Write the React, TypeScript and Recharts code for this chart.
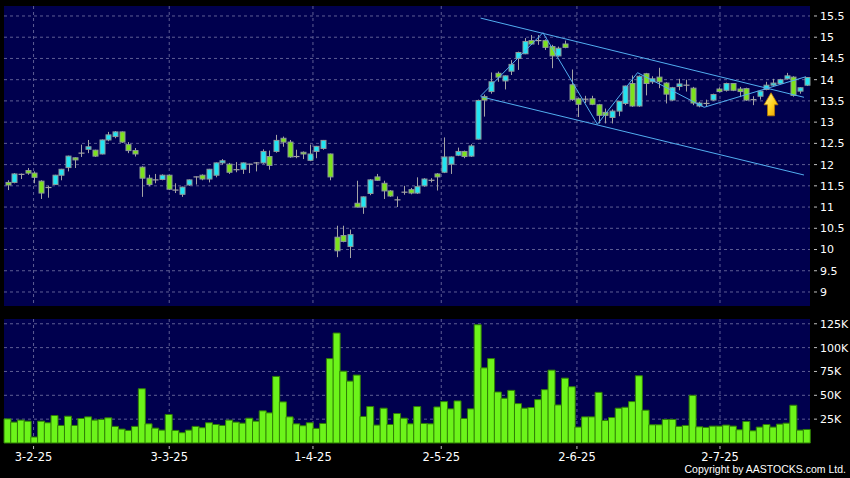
import React from "react";
import {
  Bar,
  CartesianGrid,
  ComposedChart,
  ReferenceDot,
  ReferenceLine,
  XAxis,
  YAxis,
} from "recharts";

// daily OHLC, oldest first
const opens = [
  11.58, 11.58, 11.77, 11.86, 11.8, 11.61, 11.46, 11.53, 11.75, 11.93,
  12.16, 12.27, 12.36, 12.34, 12.25, 12.58, 12.66, 12.77, 12.47, 12.33,
  11.94, 11.68, 11.64, 11.65, 11.75, 11.4, 11.3, 11.52, 11.71, 11.75,
  11.66, 11.75, 12.04, 12.01, 11.88, 11.89, 12.01, 12.04, 12.04, 12.19,
  12.31, 12.62, 12.53, 12.19, 12.29, 12.1, 12.31, 12.38, 12.25, 10.29,
  10.33, 10.07, 11.09, 11.0, 11.32, 11.71, 11.56, 11.38, 11.17, 11.35,
  11.41, 11.33, 11.5, 11.63, 11.78, 11.82, 12.01, 12.22, 12.31, 12.2,
  12.6, 13.6, 13.72, 14.15, 13.97, 14.2, 14.5, 14.61, 14.92, 14.92,
  14.92, 14.78, 14.56, 14.84, 13.88, 13.55, 13.54, 13.55, 13.41, 13.23,
  13.11, 13.26, 13.44, 13.91, 13.38, 14.14, 13.95, 14.06, 13.92, 13.52,
  13.84, 13.87, 13.8, 13.38, 13.44, 13.52, 13.78, 13.75, 13.91, 13.78,
  13.79, 13.53, 13.61, 13.77, 13.87, 13.91, 14.02, 14.06, 13.73, 13.87,
];
const highs = [
  11.63, 11.8, 11.79, 11.92, 11.84, 11.63, 11.5, 11.76, 11.9, 12.21,
  12.17, 12.47, 12.58, 12.35, 12.59, 12.77, 12.79, 12.78, 12.53, 12.39,
  11.96, 11.76, 11.78, 11.77, 11.76, 11.56, 11.48, 11.65, 11.72, 11.77,
  11.9, 12.05, 12.13, 12.04, 12.06, 12.05, 12.02, 12.06, 12.36, 12.33,
  12.7, 12.66, 12.58, 12.35, 12.31, 12.47, 12.44, 12.58, 12.26, 10.56,
  10.56, 10.47, 11.62, 11.25, 11.66, 11.78, 11.62, 11.4, 11.25, 11.5,
  11.45, 11.7, 11.68, 11.68, 11.8, 12.64, 12.19, 12.4, 12.33, 12.48,
  13.53, 13.65, 14.17, 14.19, 14.1, 14.46, 14.66, 14.98, 15.05, 15.05,
  14.95, 14.82, 14.78, 14.92, 14.24, 13.58, 13.62, 13.62, 13.43, 13.32,
  13.3, 13.5, 13.86, 14.1, 14.1, 14.16, 14.08, 14.28, 13.94, 13.83,
  14.02, 14.0, 13.83, 13.48, 13.53, 13.67, 13.82, 13.93, 13.92, 13.83,
  13.81, 13.61, 13.74, 13.95, 14.02, 14.02, 14.16, 14.08, 13.82, 14.06,
];
const lows = [
  11.4, 11.56, 11.66, 11.76, 11.56, 11.19, 11.22, 11.52, 11.63, 11.84,
  11.92, 12.18, 12.27, 12.18, 12.24, 12.55, 12.62, 12.51, 12.27, 12.19,
  11.24, 11.49, 11.56, 11.63, 11.4, 11.33, 11.24, 11.5, 11.53, 11.63,
  11.58, 11.7, 12.0, 11.78, 11.82, 11.78, 11.8, 11.84, 12.02, 11.88,
  12.28, 12.42, 12.16, 12.15, 12.13, 12.08, 12.15, 12.35, 11.63, 9.82,
  10.17, 9.8, 10.99, 10.84, 11.28, 11.62, 11.19, 11.24, 11.0, 11.29,
  11.3, 11.31, 11.48, 11.58, 11.39, 11.8, 11.78, 12.2, 12.15, 12.18,
  12.59, 13.13, 13.67, 13.95, 13.77, 14.11, 14.23, 14.6, 14.82, 14.82,
  14.7, 14.27, 14.54, 14.74, 13.5, 13.12, 13.45, 13.4, 12.97, 12.97,
  12.97, 13.14, 13.4, 13.36, 13.36, 13.63, 13.9, 13.8, 13.44, 13.5,
  13.75, 13.72, 13.4, 13.35, 13.36, 13.5, 13.7, 13.72, 13.73, 13.59,
  13.5, 13.4, 13.53, 13.75, 13.85, 13.89, 14.0, 13.6, 13.67, 13.85,
];
const closes = [
  11.52, 11.78, 11.77, 11.8, 11.7, 11.33, 11.46, 11.75, 11.89, 12.2,
  12.11, 12.27, 12.42, 12.2, 12.58, 12.7, 12.77, 12.53, 12.33, 12.25,
  11.68, 11.53, 11.64, 11.75, 11.42, 11.4, 11.47, 11.64, 11.71, 11.66,
  11.89, 12.04, 12.09, 11.82, 11.88, 12.04, 12.01, 12.04, 12.31, 11.98,
  12.57, 12.53, 12.18, 12.19, 12.25, 12.25, 12.43, 12.57, 11.71, 9.97,
  10.19, 10.35, 11.0, 11.24, 11.64, 11.63, 11.38, 11.26, 11.17, 11.35,
  11.33, 11.48, 11.66, 11.63, 11.71, 12.18, 12.18, 12.31, 12.19, 12.44,
  13.51, 13.52, 13.95, 14.06, 14.09, 14.36, 14.64, 14.9, 14.84, 14.92,
  14.76, 14.56, 14.74, 14.76, 13.53, 13.42, 13.54, 13.42, 13.16, 13.16,
  13.26, 13.49, 13.85, 13.38, 14.08, 13.91, 14.02, 13.95, 13.66, 13.81,
  13.9, 13.87, 13.45, 13.45, 13.44, 13.65, 13.72, 13.91, 13.75, 13.72,
  13.52, 13.53, 13.73, 13.87, 13.92, 14.0, 14.09, 13.63, 13.81, 14.05,
];
// volume in thousands of shares
const volumes = [
  25.3, 21.9, 24.0, 22.9, 6.3, 22.9, 21.2, 28.8, 18.4, 28.1,
  18.4, 25.7, 27.4, 24.0, 24.7, 26.4, 17.4, 14.6, 13.2, 17.4,
  56.9, 20.1, 15.6, 13.5, 29.9, 13.2, 10.8, 13.5, 17.4, 16.0,
  21.2, 19.4, 18.4, 24.0, 21.9, 20.8, 26.0, 22.9, 33.7, 31.6,
  69.8, 43.1, 27.4, 20.1, 18.1, 21.2, 15.3, 20.5, 88.5, 115.3,
  75.3, 64.9, 71.2, 27.8, 38.2, 18.8, 36.5, 19.4, 30.9, 26.0,
  20.1, 38.2, 20.5, 20.1, 37.8, 43.4, 35.8, 44.1, 25.7, 35.8,
  124.0, 78.8, 88.5, 53.5, 46.9, 55.2, 41.3, 36.5, 37.2, 45.5,
  55.9, 76.4, 39.9, 68.0, 59.0, 16.7, 27.4, 27.4, 53.1, 23.6,
  26.7, 36.5, 37.5, 43.4, 70.5, 34.4, 19.1, 19.1, 24.7, 24.7,
  17.4, 18.4, 50.0, 17.0, 16.3, 17.7, 17.7, 18.8, 17.7, 13.9,
  22.6, 12.8, 16.7, 19.4, 16.7, 19.8, 20.8, 39.6, 13.5, 14.2,
];

const priceTicks = [9, 9.5, 10, 10.5, 11, 11.5, 12, 12.5, 13, 13.5, 14, 14.5, 15, 15.5];
const volumeTicks = [25, 50, 75, 100, 125];
// where the month labels sit, in bar-index units
const dateTickAt = [3.9, 24.1, 45.5, 64.6, 84.8, 106.1];
const dateTickLabels = ["3-2-25", "3-3-25", "1-4-25", "2-5-25", "2-6-25", "2-7-25"];

// drawn trend channel + zigzag (bar index, price)
const channelUpper = [
  { x: 70.46, y: 15.45 },
  { x: 118.6, y: 13.585 },
];
const channelLower = [
  { x: 70.46, y: 13.6 },
  { x: 118.6, y: 11.755 },
];
const zigzag = [
  { x: 70.46, y: 13.616 },
  { x: 79.74, y: 15.107 },
  { x: 87.85, y: 12.949 },
  { x: 93.82, y: 14.165 },
  { x: 103.74, y: 13.35 },
  { x: 118.9, y: 14.07 },
];
const arrowAt = { x: 113.7, y: 13.42 };

const rows = opens.map((open, i) => ({
  i,
  open,
  high: highs[i],
  low: lows[i],
  close: closes[i],
  volume: volumes[i],
}));

const NAVY = "#00004e";
const GRID = "#5e5e94";
const FONT = "DejaVu Sans, Verdana, sans-serif";
const X_DOMAIN: [number, number] = [-0.5, 119.5];

function Candle(props: any) {
  const { x, y, width, height, payload } = props;
  const { open, close, high, low } = payload;
  const top = Math.min(y, y + height);
  const bot = Math.max(y, y + height);
  const k = high > low ? (bot - top) / (high - low) : 0;
  const py = (v: number) => top + (high - v) * k;
  const cx = Math.round(x + width / 2) + 0.5;
  const yo = py(open);
  const yc = py(close);
  const wick = <line x1={cx} x2={cx} y1={top} y2={bot} stroke="#a4a4a4" strokeWidth={1} />;
  if (Math.abs(close - open) < 0.005) {
    return (
      <g>
        {wick}
        <line x1={cx - 3} x2={cx + 3} y1={yo} y2={yo} stroke="#a4a4a4" strokeWidth={1.2} />
      </g>
    );
  }
  const up = close > open;
  const bTop = Math.min(yo, yc);
  const bH = Math.max(Math.abs(yo - yc), 1.5);
  return (
    <g>
      {wick}
      <rect
        x={cx - 2.5}
        y={bTop}
        width={5}
        height={bH}
        fill={up ? "#22e4f2" : "#7ce21c"}
        stroke="#8e9a9a"
        strokeWidth={1}
      />
    </g>
  );
}

function RightTick(props: any) {
  const { x, y, payload, suffix } = props;
  return (
    <g>
      <line x1={x + 4} x2={x + 7} y1={y} y2={y} stroke="#c0c0c0" />
      <text x={x + 10} y={y} dy="0.36em" fill="#ffffff" fontSize={11} fontFamily={FONT}>
        {payload.value}
        {suffix}
      </text>
    </g>
  );
}

function DateTick(props: any) {
  const { x, y, payload } = props;
  const idx = dateTickAt.indexOf(payload.value);
  return (
    <g>
      <line x1={x} x2={x} y1={y + 3} y2={y + 6} stroke="#c0c0c0" />
      <text x={x} y={y + 18} textAnchor="middle" fill="#ffffff" fontSize={11.5} fontFamily={FONT}>
        {dateTickLabels[idx]}
      </text>
    </g>
  );
}

function Arrow(props: any) {
  const { cx, cy } = props;
  const pts = [
    [0, -11.5],
    [7, 0.5],
    [3.5, 0.5],
    [3.5, 11.5],
    [-3.5, 11.5],
    [-3.5, 0.5],
    [-7, 0.5],
  ]
    .map(([dx, dy]) => `${cx + dx},${cy + dy}`)
    .join(" ");
  return (
    <g>
      <defs>
        <linearGradient id="arrowFill" x1="0" y1="0" x2="1" y2="1">
          <stop offset="0%" stopColor="#fff6a0" />
          <stop offset="55%" stopColor="#ffd21e" />
          <stop offset="100%" stopColor="#e89a00" />
        </linearGradient>
      </defs>
      <polygon points={pts} fill="url(#arrowFill)" stroke="#b87800" strokeWidth={0.8} />
    </g>
  );
}

export default function App() {
  const segs: { x: number; y: number }[][] = [channelUpper, channelLower];
  for (let j = 0; j < zigzag.length - 1; j++) segs.push([zigzag[j], zigzag[j + 1]]);

  return (
    <div
      style={{
        position: "absolute",
        left: 0,
        top: 0,
        width: 850,
        height: 478,
        background: "#000",
        overflow: "hidden",
      }}
    >
      <ComposedChart
        width={850}
        height={312}
        data={rows}
        margin={{ top: 6, right: 0, bottom: 6, left: 4 }}
      >
        <CartesianGrid
          fill={NAVY}
          stroke={GRID}
          strokeDasharray="3 3"
          verticalValues={dateTickAt}
          horizontalValues={priceTicks}
        />
        <XAxis type="number" dataKey="i" domain={X_DOMAIN} ticks={dateTickAt} hide />
        <YAxis
          orientation="right"
          type="number"
          domain={[8.67, 15.735]}
          ticks={priceTicks}
          interval={0}
          allowDataOverflow
          width={40}
          axisLine={false}
          tickLine={false}
          tickSize={0}
          tickMargin={0}
          tick={<RightTick suffix="" />}
        />
        <Bar
          dataKey={(d: any) => [d.low, d.high]}
          barSize={5}
          shape={<Candle />}
          isAnimationActive={false}
        />
        {segs.map((s, j) => (
          <ReferenceLine
            key={j}
            segment={s}
            stroke="#52aef0"
            strokeWidth={1}
            ifOverflow="visible"
          />
        ))}
        <ReferenceDot x={arrowAt.x} y={arrowAt.y} shape={<Arrow />} ifOverflow="visible" />
      </ComposedChart>

      <ComposedChart
        width={850}
        height={166}
        data={rows}
        margin={{ top: 7, right: 0, bottom: 0, left: 4 }}
        barCategoryGap={0}
        barGap={0}
      >
        <CartesianGrid
          fill={NAVY}
          stroke={GRID}
          strokeDasharray="3 3"
          verticalValues={dateTickAt}
          horizontalValues={volumeTicks}
        />
        <XAxis
          type="number"
          dataKey="i"
          domain={X_DOMAIN}
          ticks={dateTickAt}
          height={35}
          axisLine={false}
          tickLine={false}
          tickSize={0}
          tickMargin={0}
          tick={<DateTick />}
          interval={0}
        />
        <YAxis
          orientation="right"
          type="number"
          domain={[0, 130]}
          ticks={volumeTicks}
          interval={0}
          width={40}
          axisLine={false}
          tickLine={false}
          tickSize={0}
          tickMargin={0}
          tick={<RightTick suffix="K" />}
        />
        <Bar
          dataKey="volume"
          fill="#6cf41a"
          stroke="#2f7d06"
          strokeWidth={1}
          isAnimationActive={false}
        />
      </ComposedChart>

      <div
        style={{
          position: "absolute",
          right: 4,
          top: 463,
          color: "#fff",
          fontFamily: "Liberation Sans, Arial, sans-serif",
          fontSize: 10.5,
          lineHeight: "13px",
          whiteSpace: "nowrap",
        }}
      >
        Copyright by AASTOCKS.com Ltd.
      </div>
    </div>
  );
}
